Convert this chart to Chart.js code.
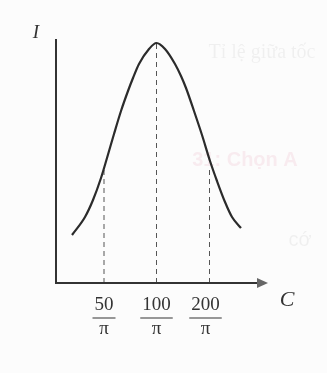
<!DOCTYPE html>
<html lang="vi">
<head>
    <meta charset="UTF-8">
    <title>I theo C</title>
    <style>
        html, body { margin: 0; padding: 0; background: #fcfcfc; }
        #chart-container { width: 327px; height: 373px; }
    </style>
</head>
<body>
    <div id="chart-container">
        <canvas id="myChart" width="327" height="373"></canvas>
    </div>
    <script src="https://cdn.jsdelivr.net/npm/chart.js"></script>
    <script>
        // curve (x in axis units, I in axis units)
        const curveX = [1.6, 2.9, 3.7, 4.5, 5.1, 5.8, 6.5, 7.2, 7.7, 8.3, 9.3, 10.05, 10.9, 11.9, 12.5, 13.0, 13.8, 14.6, 15.4, 16.1, 16.9, 17.6, 18.5];
        const curveI = [4.8, 6.6, 8.3, 10.5, 12.5, 14.9, 17.2, 19.2, 20.5, 21.9, 23.4, 24.0, 23.4, 21.9, 20.7, 19.5, 17.2, 14.8, 12.2, 10.2, 8.1, 6.6, 5.5];

        // marked C values: position on axis, label numerator, height of dashed guide
        const tickPos = [4.8, 10.05, 15.35];
        const tickNum = ['50', '100', '200'];
        const tickDen = 'π';
        const guideTop = [11.3, 24.0, 11.5];

        const xMax = 21.2;
        const yMax = 24.4;

        const ctx = document.getElementById('myChart').getContext('2d');

        const curve = curveX.map((x, i) => ({ x: x, y: curveI[i] }));

        const guides = tickPos.map((x, i) => ({
            data: [{ x: x, y: 0 }, { x: x, y: guideTop[i] }],
            borderColor: '#555',
            borderWidth: 1,
            borderDash: [5, 4],
            pointRadius: 0,
            tension: 0
        }));

        // axes, arrow, fraction labels and the faint scan show-through
        const axesPlugin = {
            id: 'axesPlugin',
            beforeDraw(chart) {
                const c = chart.ctx;
                c.save();
                c.fillStyle = '#fcfcfc';
                c.fillRect(0, 0, chart.width, chart.height);
                c.textAlign = 'center';
                c.textBaseline = 'middle';
                c.font = '20px "Liberation Serif"';
                c.fillStyle = 'rgba(0,0,0,0.05)';
                c.fillText('Tỉ lệ giữa tốc', 262, 53);
                c.font = 'bold 20px "Liberation Sans"';
                c.fillStyle = 'rgba(220,90,130,0.1)';
                c.fillText('31: Chọn A', 245, 160);
                c.font = '20px "Liberation Sans"';
                c.fillStyle = 'rgba(0,0,0,0.05)';
                c.fillText('cớ', 300, 240);
                c.restore();
            },
            afterDatasetsDraw(chart) {
                const c = chart.ctx;
                const xs = chart.scales.x;
                const ys = chart.scales.y;
                const x0 = xs.getPixelForValue(0);
                const y0 = ys.getPixelForValue(0);
                const xEnd = xs.getPixelForValue(xMax);
                const yTop = ys.getPixelForValue(yMax);
                c.save();
                c.strokeStyle = '#333';
                c.lineWidth = 2;
                c.beginPath();
                c.moveTo(x0, yTop);
                c.lineTo(x0, y0);
                c.lineTo(xEnd - 8, y0);
                c.stroke();
                c.fillStyle = '#666';
                c.beginPath();
                c.moveTo(xEnd, y0);
                c.lineTo(xEnd - 11, y0 - 5);
                c.lineTo(xEnd - 11, y0 + 5);
                c.closePath();
                c.fill();

                c.fillStyle = '#333';
                c.textAlign = 'center';
                c.textBaseline = 'middle';
                c.font = 'italic 19px "Liberation Serif"';
                c.fillText('I', x0 - 20, yTop - 6);
                c.font = 'italic 22px "Liberation Serif"';
                c.fillText('C', xEnd + 19, y0 + 17);

                tickPos.forEach((v, i) => {
                    const px = xs.getPixelForValue(v) + (i === 2 ? -4 : 0);
                    c.font = '19px "Liberation Serif"';
                    c.fillText(tickNum[i], px, y0 + 22);
                    const w = c.measureText(tickNum[i]).width + 4;
                    c.lineWidth = 1;
                    c.beginPath();
                    c.moveTo(px - w / 2, y0 + 35);
                    c.lineTo(px + w / 2, y0 + 35);
                    c.stroke();
                    c.fillText(tickDen, px, y0 + 46);
                });
                c.restore();
            }
        };

        new Chart(ctx, {
            type: 'line',
            data: {
                datasets: [{
                    data: curve,
                    borderColor: '#2b2b2b',
                    borderWidth: 2.2,
                    pointRadius: 0,
                    cubicInterpolationMode: 'monotone',
                    fill: false
                }, ...guides]
            },
            options: {
                responsive: false,
                animation: false,
                layout: { padding: { left: 56, right: 59, top: 39, bottom: 90 } },
                plugins: { legend: { display: false }, tooltip: { enabled: false } },
                scales: {
                    x: { type: 'linear', min: 0, max: xMax, display: false },
                    y: { type: 'linear', min: 0, max: yMax, display: false }
                }
            },
            plugins: [axesPlugin]
        });
    </script>
</body>
</html>
